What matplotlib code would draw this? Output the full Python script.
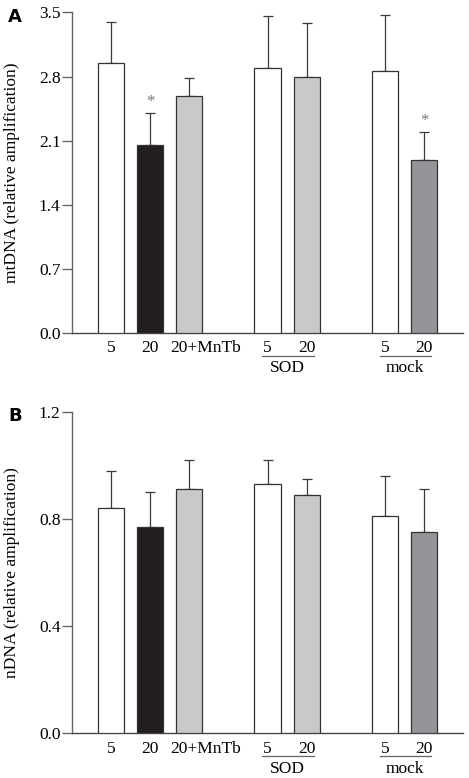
import matplotlib.pyplot as plt
import matplotlib.transforms as mtransforms
import numpy as np

plt.rcParams['font.family'] = ['Liberation Serif', 'DejaVu Serif']

positions = [0, 1, 2, 4, 5, 7, 8]
tick_labels = ['5', '20', '20+MnTb', '5', '20', '5', '20']
colors = ['white', '#231f20', '#c8c9cb', 'white', '#c8c9cb', 'white', '#939598']

mt_values = [2.95, 2.05, 2.59, 2.89, 2.79, 2.86, 1.89]
mt_err = [0.45, 0.35, 0.19, 0.57, 0.59, 0.61, 0.30]
mt_star = [False, True, False, False, False, False, True]

n_values = [0.84, 0.771, 0.91, 0.929, 0.889, 0.81, 0.75]
n_err = [0.14, 0.13, 0.11, 0.09, 0.06, 0.15, 0.16]

groups = [('SOD', 4, 5), ('mock', 7, 8)]

fig = plt.figure(figsize=(4.69, 7.78), dpi=100)
axA = fig.add_axes([0.1535, 0.572, 0.834, 0.412])
axB = fig.add_axes([0.1535, 0.0575, 0.834, 0.4133])


def draw_panel(ax, values, err, ymax, ticks, ylabel, letter, stars=None):
    ax.bar(positions, values, width=0.67, color=colors, edgecolor='#333333',
           linewidth=0.9, zorder=3)
    ax.errorbar(positions, values, yerr=[np.zeros(len(err)), err], fmt='none',
                ecolor='#3a3a3a', elinewidth=0.9, capsize=3.6, capthick=0.9, zorder=2)
    if stars:
        for x, v, e, s in zip(positions, values, err, stars):
            if s:
                ax.text(x, v + e + 0.01 * ymax, '*', ha='center', va='bottom',
                        fontsize=12, color='#777777')
    ax.set_xlim(-1, 9)
    ax.set_ylim(0, ymax)
    ax.set_yticks(ticks)
    ax.set_yticklabels(['%.1f' % t for t in ticks])
    ax.set_xticks([])
    ax.tick_params(axis='y', length=7.2, width=1, color='#666666', labelsize=12.5, pad=1)
    for side in ['top', 'right']:
        ax.spines[side].set_visible(False)
    ax.spines['left'].set_color('#666666')
    ax.spines['bottom'].set_color('#444444')
    ax.spines['left'].set_linewidth(1)
    ax.spines['bottom'].set_linewidth(1)
    ax.set_ylabel(ylabel, fontsize=12.5)
    ax.yaxis.set_label_coords(-0.133, 0.5)

    trans = ax.get_xaxis_transform()
    lab_tr = mtransforms.offset_copy(trans, fig=fig, x=0, y=-11, units='points')
    wide_tr = mtransforms.offset_copy(trans, fig=fig, x=-13.5, y=-11, units='points')
    for x, lab in zip(positions, tick_labels):
        if len(lab) > 2:
            ax.text(x, 0, lab, ha='left', va='center', fontsize=12.5, transform=wide_tr)
        else:
            ax.text(x, 0, lab, ha='center', va='center', fontsize=12.5, transform=lab_tr)

    line_tr = mtransforms.offset_copy(trans, fig=fig, x=0, y=-16.5, units='points')
    text_tr = mtransforms.offset_copy(trans, fig=fig, x=0, y=-25.5, units='points')
    for name, a, b in groups:
        ax.plot([a - 0.135, b + 0.19], [0, 0], color='#666666', lw=0.9,
                transform=line_tr, clip_on=False)
        ax.text((a + b) / 2, 0, name, ha='center', va='center', fontsize=12.5,
                transform=text_tr)

    fig.text(0.017, ax.get_position().y1 - 0.006, letter, fontsize=13,
             fontweight='bold', family='DejaVu Sans', va='center')


draw_panel(axA, mt_values, mt_err, 3.5, [0.0, 0.7, 1.4, 2.1, 2.8, 3.5],
           'mtDNA (relative amplification)', 'A', mt_star)
draw_panel(axB, n_values, n_err, 1.2, [0.0, 0.4, 0.8, 1.2],
           'nDNA (relative amplification)', 'B')

fig.savefig('out.png', dpi=100)
